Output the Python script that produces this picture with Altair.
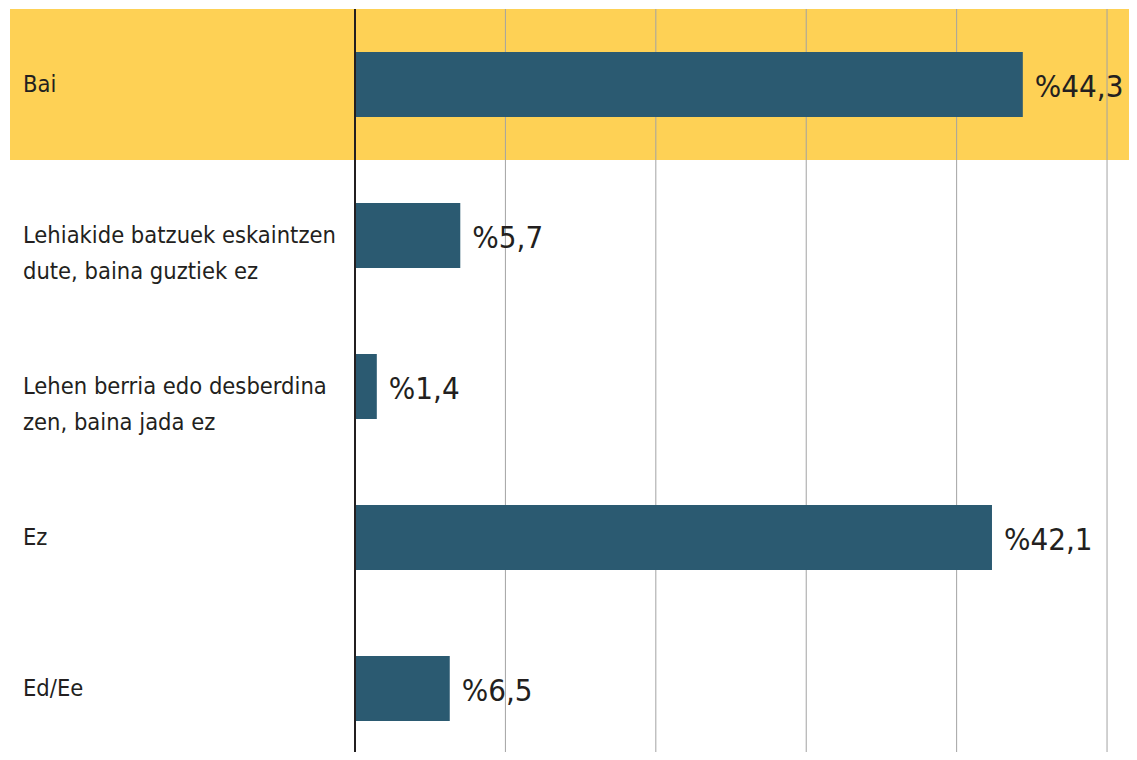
import altair as alt
import pandas as pd

categories = [
    "Bai",
    "Lehiakide batzuek eskaintzen\ndute, baina guztiek ez",
    "Lehen berria edo desberdina\nzen, baina jada ez",
    "Ez",
    "Ed/Ee",
]
# bar lengths as drawn in the reference
values = [44.4, 7.0, 1.45, 42.35, 6.3]
value_labels = ["%44,3", "%5,7", "%1,4", "%42,1", "%6,5"]
highlight = [True, False, False, False, False]
grid_ticks = [10, 20, 30, 40, 50]

df = pd.DataFrame({"cat": categories, "val": values, "lab": value_labels, "hl": highlight})
grid_df = pd.DataFrame({"g": grid_ticks})

FONT = "Liberation Sans Narrow, DejaVu Sans Condensed, Liberation Sans"
PAD_INNER = 0.57
xscale = alt.Scale(domain=[0, 51.46], nice=False, zero=True)
ybar = alt.Scale(domain=categories, range=[0, 755], paddingInner=PAD_INNER, paddingOuter=PAD_INNER / 2)

band = alt.Chart(df).transform_filter("datum.hl").mark_bar(
    color="#FED155", height=alt.RelativeBandSize(band=1 / (1 - PAD_INNER))
).encode(
    x=alt.value(-345),
    x2=alt.value(800),
    y=alt.Y("cat:N", scale=ybar, axis=None),
)

grid = alt.Chart(grid_df).mark_rule(color="#A3A3A3", strokeWidth=1).encode(
    x=alt.X("g:Q", scale=xscale, axis=None),
)

bars = alt.Chart(df).mark_bar(color="#2B5A71").encode(
    x=alt.X("val:Q", scale=xscale, axis=None),
    y=alt.Y("cat:N", scale=ybar, axis=None),
)

axis_line = alt.Chart(grid_df).mark_rule(color="#231F20", strokeWidth=2).encode(
    x=alt.value(0),
)

vlabels = alt.Chart(df).mark_text(
    align="left", baseline="middle", dx=12, dy=3, font=FONT, fontSize=31, color="#231F20"
).encode(
    x=alt.X("val:Q", scale=xscale, axis=None),
    y=alt.Y("cat:N", scale=ybar, axis=None),
    text="lab:N",
)

clabels = alt.Chart(df).mark_text(
    align="left", baseline="top", dy=-12, font=FONT, fontSize=23.5, color="#231F20",
    lineBreak="\n", lineHeight=36,
).encode(
    x=alt.value(-332),
    y=alt.Y("cat:N", scale=ybar, axis=None),
    text="cat:N",
)

chart = alt.layer(band, grid, bars, axis_line, vlabels, clabels).properties(
    width=774,
    height=743,
    autosize=alt.AutoSizeParams(type="none"),
    padding={"left": 347, "top": 1, "right": 0, "bottom": 0},
).configure_view(stroke=None)

chart.save("out.html", embed_options={"renderer": "svg", "actions": False})
